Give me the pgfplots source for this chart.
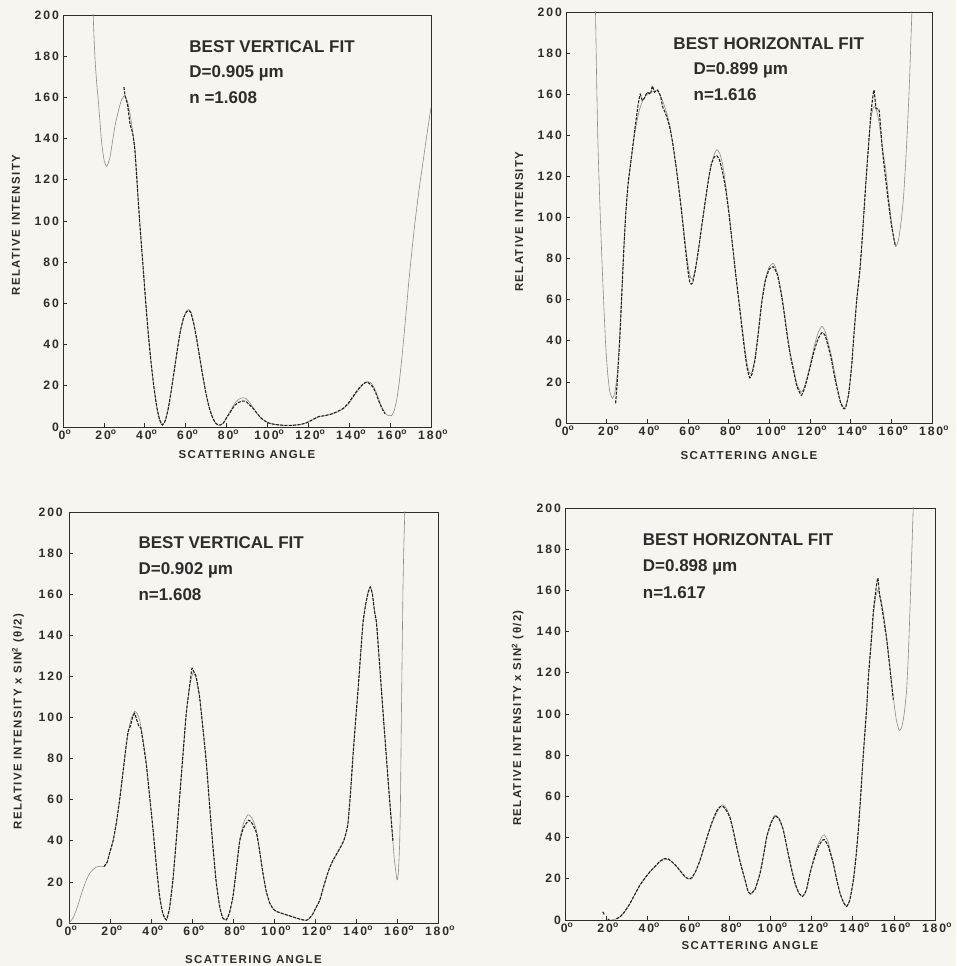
\documentclass[border=0pt]{standalone}
\usepackage{pgfplots}
\pgfplotsset{compat=1.18}
\usepackage{fontspec}
\setmainfont{Liberation Sans}
\newfontfamily\tickfam[LetterSpace=16]{Liberation Sans}
\newfontfamily\labfam[LetterSpace=12]{Liberation Sans}
\definecolor{bgcol}{RGB}{247,245,239}
\definecolor{inkcol}{RGB}{45,45,45}
\definecolor{theocol}{RGB}{140,140,140}
\definecolor{meascol}{RGB}{35,35,35}
\newcommand{\dg}{\textsuperscript{o}}
\tikzset{ann/.style={anchor=base west, font=\bfseries\fontsize{17}{19}\selectfont, text=inkcol}}
\pgfplotsset{
  panel/.style={
    anchor=south west, scale only axis,
    xmin=0, xmax=180, ymin=0, ymax=200,
    xtick={0,20,...,180},
    xticklabels={0\dg,20\dg,40\dg,60\dg,80\dg,100\dg,120\dg,140\dg,160\dg,180\dg},
    ytick={0,20,...,200},
    tick align=inside, tick pos=left,
    major tick length=4pt,
    axis line style={line width=0.8pt, draw=inkcol},
    every tick/.style={line width=0.6pt, inkcol},
    /pgf/number format/assume math mode=true,
    tick label style={font=\tickfam\bfseries\fontsize{12.2}{14}\selectfont, text=inkcol},
    xticklabel style={inner sep=3pt, xshift=2pt},
    yticklabel style={inner sep=4pt},
    every axis y label/.style={rotate=90, anchor=center, font=\labfam\bfseries\fontsize{11.4}{13}\selectfont, text=inkcol},
    every axis x label/.style={anchor=center, font=\labfam\bfseries\fontsize{11.5}{13}\selectfont, text=inkcol},
    unbounded coords=jump,
    clip=true,
  },
  theo/.style={draw=theocol, line width=0.6pt, smooth, tension=0.3, no marks},
  meas/.style={draw=meascol, line width=1.1pt, dash pattern=on 3pt off 1.3pt, smooth, tension=0.3, no marks},
}
\begin{document}
\begin{tikzpicture}[x=1pt,y=1pt]
\path[use as bounding box, fill=bgcol] (0,0) rectangle (956,966);

% ---------------- Panel 1: top-left ----------------
\begin{axis}[panel, at={(63pt,539pt)}, width=368pt, height=412pt,
  xlabel={SCATTERING ANGLE}, ylabel={RELATIVE INTENSITY},
  x label style={at={(axis description cs:0.5,-0.068)}},
  y label style={at={(axis description cs:-0.128,0.49)}}]
\addplot[theo] table {
13.8 260
14.8 200
15.6 180
16.4 168
17.3 158
18.9 138
20.2 129
21.4 126.5
23 131
25.4 146
27.5 155
28.7 159
30.3 161
31.5 158
32.8 152
34 144
35.2 134.5
36.8 110
37.7 97
39 80
40.5 60
41.7 45.5
43 32
44.5 19
46 9
47.3 3
48.6 1
50 3
51.5 9
53 18
54.5 28
56 38
57.5 47
59 53
60.5 56.5
61.5 57
62.5 56
64 50
65.5 42
67 33
68.5 24
70 16
71.5 9.5
73 5
74.5 2
76 0.8
77 0.8
78.5 2
80 4.5
82 8
84 11.5
86 13.5
88 14.2
89.5 13.8
91 12.2
93 9.5
95 6.5
97 4.2
99 2.8
101 1.8
104 1.2
108 0.8
112 0.8
116 1.2
119 2
122 3.5
125 5
128 5.5
131 6.2
134 7.2
137 8.8
139.5 11
142 14.5
144.5 18
147 21
149 22
150.5 21.5
152 19.5
153.5 16
155 12
156.5 8.5
158 6.2
159.5 5.5
160.8 5.6
162 8
163.2 13
164.5 22
166 36
167.5 52
169 69
170.5 84
172 98
174 114
176 128
178 142
180 155
};
\addplot[meas] table {
29.8 165
30.5 160
31.5 157
32.8 147
34 143
35.2 134
36.8 110
37.7 97
39 80
40.5 60
41.7 45.5
43 32
44.5 19
46 9
47.3 3.5
48.6 1
50 3
51.5 9
53 18
54.5 28
56 38
57.5 47
59 53
60.5 56
61.5 56.5
62.5 55.5
64 50
65.5 42
67 33
68.5 24
70 16
71.5 9.5
73 5
74.5 2
76 1
77 1
78.5 2
80 4.5
82 7.5
84 10.5
86 12
88 12.6
89.5 12.4
91 11
93 9
95 6.5
97 4.2
99 2.8
101 1.8
104 1.2
108 0.8
112 0.8
116 1.2
119 2
122 3.5
125 5
128 5.5
131 6.2
134 7.4
137 9
139.5 11.5
142 15
144.5 18.5
147 21
148.5 21.8
150 21
151.5 19.5
153 16.5
154.5 12.5
156 9
157.5 6.5
};
\node[ann] at (axis description cs:0.334,0.909) {BEST VERTICAL FIT};
\node[ann] at (axis description cs:0.334,0.849) {D=0.905 µm};
\node[ann] at (axis description cs:0.334,0.786) {n =1.608};
\end{axis}

% ---------------- Panel 2: top-right ----------------
\begin{axis}[panel, at={(566pt,543pt)}, width=366pt, height=411pt,
  xlabel={SCATTERING ANGLE}, ylabel={RELATIVE INTENSITY},
  x label style={at={(axis description cs:0.5,-0.078)}},
  y label style={at={(axis description cs:-0.128,0.49)}}]
\addplot[theo] table {
13.6 240
14.5 200
15.1 165
15.7 136
16.7 105
17.8 76
18.7 55
19.5 38
20.5 24
21.5 15.5
22.8 12
24 14.5
25.2 24
26.4 42
27.4 62
28.4 84
29.4 102
30.5 116
32 128
34 142
36 152
38 157.5
40 160
42.5 161.5
45 161.5
47 158
49.2 152
51 145
52.5 136
54.5 122
56.6 105
58.6 88
60 77
61.2 71
62.2 70
63.5 74
64.8 82
66.5 94
68.5 108
70 118
71.5 126
73 131
74.2 133
75.5 131.5
77 126
78.5 116
80 104
81.5 90
83.5 72
85.5 56
87.5 40
89 29
90.4 24
91.5 25
93 32
94.5 44
96.2 59
98 70
100 76
102 77.7
104 73
106 63
107.5 53
109 42
110.5 33
112 26
113.5 19
115.7 15
117.2 17.5
119 24
120.5 30
122 37
124 44
125.9 47
127.5 44.5
129 39
130.5 33
132 25
133.5 17
135 10.5
136.5 7.5
137.5 7.8
139 14
140.5 28
141.6 43
143 60
144.5 74
145.7 90
147.4 116
148.7 134
149.9 148
151 153
152 154
153 151
154 146
155.6 134
157.3 123
158.5 111
159.8 100
161 91
162.2 86
163.5 89
164.8 98
166 110
167 126
168 145
169 168
170.1 200
170.8 220
};
\addplot[meas] table {
24.4 9.6
25.2 20
26.4 40
27.4 62
28.4 84
29.4 102
30.5 116
32 128
34 144
35.5 155
36.5 160
37.5 157
38.5 158
40 161
41.5 160
42.5 164
43.5 161
45 162
46.5 159
47.5 154
49.2 150
51 144
52.5 136
54.5 122
56.6 105
58.6 86
60 74
61 68
62.2 68
63.5 74
64.8 82
66.5 94
68.5 108
70 118
71.5 126
73 129.5
74.2 130
75.5 128
77 122
78.5 114
80 103
81.5 90
83.5 72
85.5 55
87.5 38
89 27
90.4 22
91.5 24
93 31
94.5 43
96.2 58
98 69
100 75
102 76
104 72
106 62
107.5 52
109 41
110.5 32
112 25
113.5 18
115.7 13.5
117.2 16.5
119 23
120.5 29
122 35
124 41
125.9 44
127.5 42.5
129 37
130.5 31
132 23
133.5 16
135 10
136.5 7
137.5 7.5
139 14
140.5 28
141.6 43
143 60
144.5 74
145.7 90
147.4 116
148.7 134
149.9 150
150.8 158
151.5 162
152.5 153
154 152
155.6 133
157.3 118
158.5 108
159.8 98
161 91
162 86
};
\node[ann] at (axis description cs:0.284,0.909) {BEST HORIZONTAL FIT};
\node[ann] at (axis description cs:0.339,0.847) {D=0.899 µm};
\node[ann] at (axis description cs:0.339,0.784) {n=1.616};
\end{axis}

% ---------------- Panel 3: bottom-left ----------------
\begin{axis}[panel, at={(69pt,43pt)}, width=369pt, height=411pt,
  xlabel={SCATTERING ANGLE}, ylabel={RELATIVE INTENSITY x SIN\textsuperscript{2} (θ/2)},
  x label style={at={(axis description cs:0.5,-0.09)}},
  y label style={at={(axis description cs:-0.138,0.49)}},
  yticklabel style={inner sep=6pt}]
\addplot[theo] table {
0 0
2 2.5
4 7.5
5.2 11.4
7 17
8.5 21
10 24
11.7 26
13.5 27.3
15 27.6
17.4 27.6
18.6 29.5
19.8 34
21.5 40
23.1 48.7
24.7 60
26.3 73
27.6 84
28.8 92.5
30.3 99.5
32 103
33.2 102
34.5 98.5
36 90
37.7 78
39.3 62
41 45.4
42.6 28
44.2 13
45.8 4.5
47.5 1.5
49 7
50.7 21
52.3 40
54 61.6
55.6 82
57.2 102
58.8 115
60.5 121.7
62 119
63.7 110
65.3 95
67 77.9
68.6 57
70.2 37.3
71.8 20
73.5 8
75 2.5
76.7 1.5
78.3 5
80 13
81.6 26
83.3 40.5
85.3 49
87.3 52.7
89.3 51
91.4 45.4
93 35
94.6 24.3
96.2 15.5
97.9 9.7
99.5 7
101 5.7
103.5 4.8
106 4
108.5 3.2
110.9 2.4
113.3 1.7
115.8 1.3
117.5 2.5
119 4.5
120.5 7.5
122.3 11
124 17
125.5 22
127 26.5
128.8 30.5
130.5 33.5
132.5 37
134 40
135.2 44
136.1 48.7
137.3 63
138.5 81
139.7 97
141 113.5
142.2 130
143.4 146
144.7 155
146 161.5
147 163.5
148 160
149 152
150 146
151.2 130
152.4 113.5
153.6 97
154.8 81
156 65
157.3 48.7
158.6 32
160 21
160.7 25
161.3 39
161.7 60
162.1 97
162.5 130
162.9 162
163.3 182
163.8 200
164.1 215
};
\addplot[meas] table {
17 27.5
18.6 29.5
19.8 34
21.5 40
23.1 48.7
24.7 60
26.3 73
27.6 84
28.8 93
30 96
31 100
32 102
33 99
34 96
35 95
36 89
37.7 77
39.3 62
41 45.4
42.6 28
44.2 13
45.8 4.5
47.5 1.5
49 7
50.7 21
52.3 40
54 61.6
55.6 82
57.2 102
58.8 115
60 124
61 122
62 120
63.7 110
65.3 95
67 77.9
68.6 57
70.2 37.3
71.8 20
73.5 8
75 2.5
76.7 1.5
78.3 5
80 13
81.6 26
83.3 40
85 46
86.5 48.5
87.5 50
89 49
91.4 44
93 35
94.6 24.3
96.2 15.5
97.9 9.7
99.5 7
101 5.7
103.5 4.8
106 4
108.5 3.2
110.9 2.4
113.3 1.7
115.8 1.3
117.5 2.5
119 4.5
120.5 7.5
122.3 11
124 17
125.5 22
127 26.5
128.8 30.5
130.5 33.5
132.5 37
134 40
135.2 44
136.1 48.7
137.3 63
138.5 81
139.7 97
141 113.5
142.2 130
143.4 146
144.7 155
146 161
147 163.5
148 160
149 152
150 146
151.2 130
152.4 113.5
153.6 97
154.8 81
156 65
157.3 48.7
158 40
};
\node[ann] at (axis description cs:0.179,0.912) {BEST VERTICAL FIT};
\node[ann] at (axis description cs:0.179,0.849) {D=0.902 µm};
\node[ann] at (axis description cs:0.179,0.784) {n=1.608};
\end{axis}

% ---------------- Panel 4: bottom-right ----------------
\begin{axis}[panel, at={(565pt,46pt)}, width=370pt, height=412pt,
  xlabel={SCATTERING ANGLE}, ylabel={RELATIVE INTENSITY x SIN\textsuperscript{2} (θ/2)},
  x label style={at={(axis description cs:0.5,-0.063)}},
  y label style={at={(axis description cs:-0.128,0.49)}}]
\addplot[theo] table {
22.5 0
24.5 0.4
26.8 1.6
29 4
31.6 8
34 12.5
36.5 17
39 20.5
41.4 23.5
43.8 26
46.2 28.3
48.3 29.3
50.3 29.3
52.3 28
54.3 26
56.3 23.5
58.4 21
60 20
61.6 20
63.5 23.5
65.7 29
67.7 35.5
69.7 42
71.7 47.5
73.8 52
75.5 55
77 55.9
78.6 54
80.3 50.2
81.9 43.5
83.5 35.6
85.5 27
87.6 19.4
89 14
90.3 12.3
92.5 15
94.9 22.7
96.5 31
98.1 40.5
100.2 47.5
102.2 51
104.2 49
106.2 43.7
108.2 34
110.3 24.3
112 17.5
113.8 13
115.6 11.3
117.4 14.5
119.2 22.7
121 30
123 36.5
125 40.5
126.2 41.3
128 38
130.5 27.5
132.2 19.5
133.8 13
135.5 8.5
137 6.4
138.5 9.5
140.3 19.4
141.5 30
142.7 43.7
143.5 55
145.1 80
146.8 103.5
147.6 118
149.2 138
150 148
151.2 157
152.4 160.3
153.6 156
154.9 149
156.5 137
157.3 130
158.5 119
159.7 108
161.2 97
162.6 92
163.8 93.5
165 100
166.2 111.7
167 128
167.8 150
168.6 175
169.4 200
169.8 212
};
\addplot[meas] table {
18.4 4
19.2 2.5
nan nan
20.8 0.5
21.6 0
nan nan
25 0.5
26.8 1.6
29 4
31.6 8
34 12.5
36.5 17
39 20.5
41.4 23.5
43.8 26
46.2 28.5
48.3 29.8
50.3 29.6
52.3 28
54.3 26
56.3 23.5
58.4 21
60 20
61.6 20.5
63.5 23.5
65.7 29
67.7 35.5
69.7 42
71.7 48
73.8 53
75.5 55
77 55
78.6 53
80.3 49.5
81.9 43
83.5 35.6
85.5 27
87.6 19.4
89 14
90.3 12.8
92.5 15
94.9 22.7
96.5 31
98.1 40
100.2 47
102.2 50.5
104.2 49
106.2 43.7
108.2 34
110.3 24.3
112 17.5
113.8 13
115.6 11.5
117.4 14.5
119.2 22.7
121 29
123 35
125 38.5
126.2 39
128 36
130.5 27.5
132.2 19.5
133.8 13
135.5 8.5
137 6.6
138.5 9.5
140.3 19.4
141.5 30
142.7 43.7
143.5 55
145.1 80
146.8 103.5
147.6 118
149.2 138
150 150
151.2 160
152.2 166
153 158
153.6 155
154.9 147
156.5 136
157.3 129
158.5 118
159.7 107
};
\node[ann] at (axis description cs:0.201,0.9085) {BEST HORIZONTAL FIT};
\node[ann] at (axis description cs:0.201,0.845) {D=0.898 µm};
\node[ann] at (axis description cs:0.201,0.781) {n=1.617};
\end{axis}
\end{tikzpicture}
\end{document}
